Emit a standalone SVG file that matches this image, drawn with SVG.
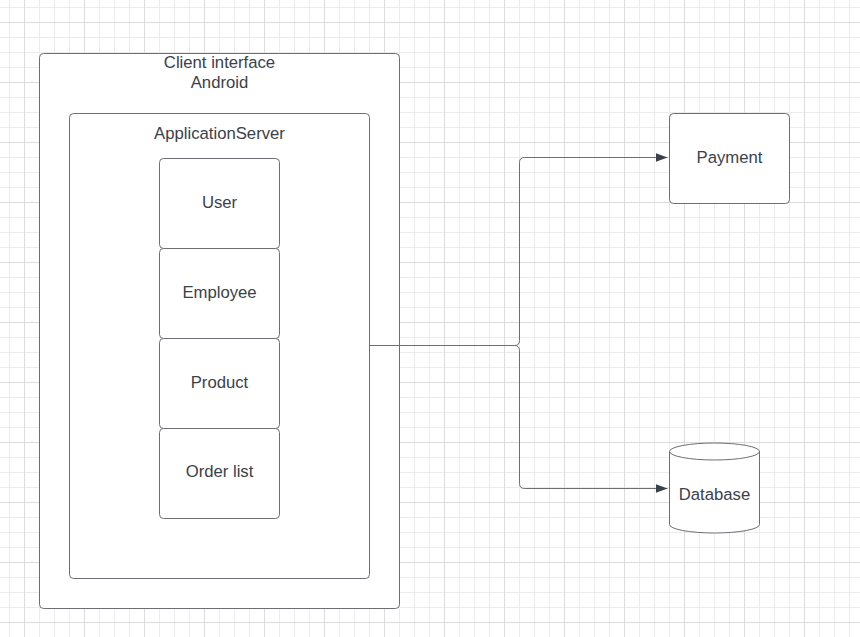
<svg xmlns="http://www.w3.org/2000/svg" width="860" height="637" viewBox="0 0 860 637">
<defs>
<pattern id="minor" width="15" height="15" patternUnits="userSpaceOnUse" x="9" y="7">
<path d="M0 0.5H15M0.5 0V15" stroke="#ececec" stroke-width="1" fill="none"/>
</pattern>
<pattern id="major" width="60" height="60" patternUnits="userSpaceOnUse" x="24" y="22">
<path d="M0 0.5H60M0.5 0V60" stroke="#dcdcdc" stroke-width="1" fill="none"/>
</pattern>
<marker id="arr" markerWidth="14" markerHeight="10" refX="12" refY="5" orient="auto" markerUnits="userSpaceOnUse">
<path d="M0 0.5L12 5L0 9.5Z" fill="#3a414a"/>
</marker>
</defs>
<style>
.box{fill:#fff;stroke:#6b6e73;stroke-width:1}
.t{font-family:"Liberation Sans",Arial,sans-serif;font-size:16.7px;fill:#3a414a;text-anchor:middle}
.c{fill:none;stroke:#6b6e73;stroke-width:1}
</style>
<rect width="860" height="637" fill="#fff"/>
<rect width="860" height="637" fill="url(#minor)"/>
<rect width="860" height="637" fill="url(#major)"/>

<g id="client">
<rect class="box" x="39.5" y="53.5" width="360" height="555" rx="4"/>
<text class="t" x="219.5" y="68">Client interface</text>
<text class="t" x="219.5" y="88">Android</text>
</g>
<g id="appserver">
<rect class="box" x="69.5" y="113.5" width="300" height="465" rx="4"/>
<text class="t" x="219.5" y="139">ApplicationServer</text>
</g>
<g id="user">
<rect class="box" x="159.5" y="158.5" width="120" height="90" rx="4"/>
<text class="t" x="219.5" y="207.5">User</text>
</g>
<g id="employee">
<rect class="box" x="159.5" y="248.5" width="120" height="90" rx="4"/>
<text class="t" x="219.5" y="297.5">Employee</text>
</g>
<g id="product">
<rect class="box" x="159.5" y="338.5" width="120" height="90" rx="4"/>
<text class="t" x="219.5" y="387.5">Product</text>
</g>
<g id="orderlist">
<rect class="box" x="159.5" y="428.5" width="120" height="90" rx="4"/>
<text class="t" x="219.5" y="476.5">Order list</text>
</g>
<g id="payment">
<rect class="box" x="669.5" y="113.5" width="120" height="90" rx="4"/>
<text class="t" x="729.5" y="162.5">Payment</text>
</g>
<g id="database">
<path class="box" d="M669.5 451.5V524.5A45 8.5 0 0 0 759.5 524.5V451.5A45 8.5 0 0 0 669.5 451.5Z"/>
<path class="c" d="M669.5 451.5A45 8.5 0 0 0 759.5 451.5"/>
<text class="t" x="714.5" y="500">Database</text>
</g>
<g id="connectors">
<path class="c" d="M369.5 345.5H514.5Q519.5 345.5 519.5 340.5V162.5Q519.5 157.5 524.5 157.5H667.5" marker-end="url(#arr)"/>
<path class="c" d="M514.5 345.5Q519.5 345.5 519.5 350.5V483.5Q519.5 488.5 524.5 488.5H667.5" marker-end="url(#arr)"/>
</g>
</svg>
